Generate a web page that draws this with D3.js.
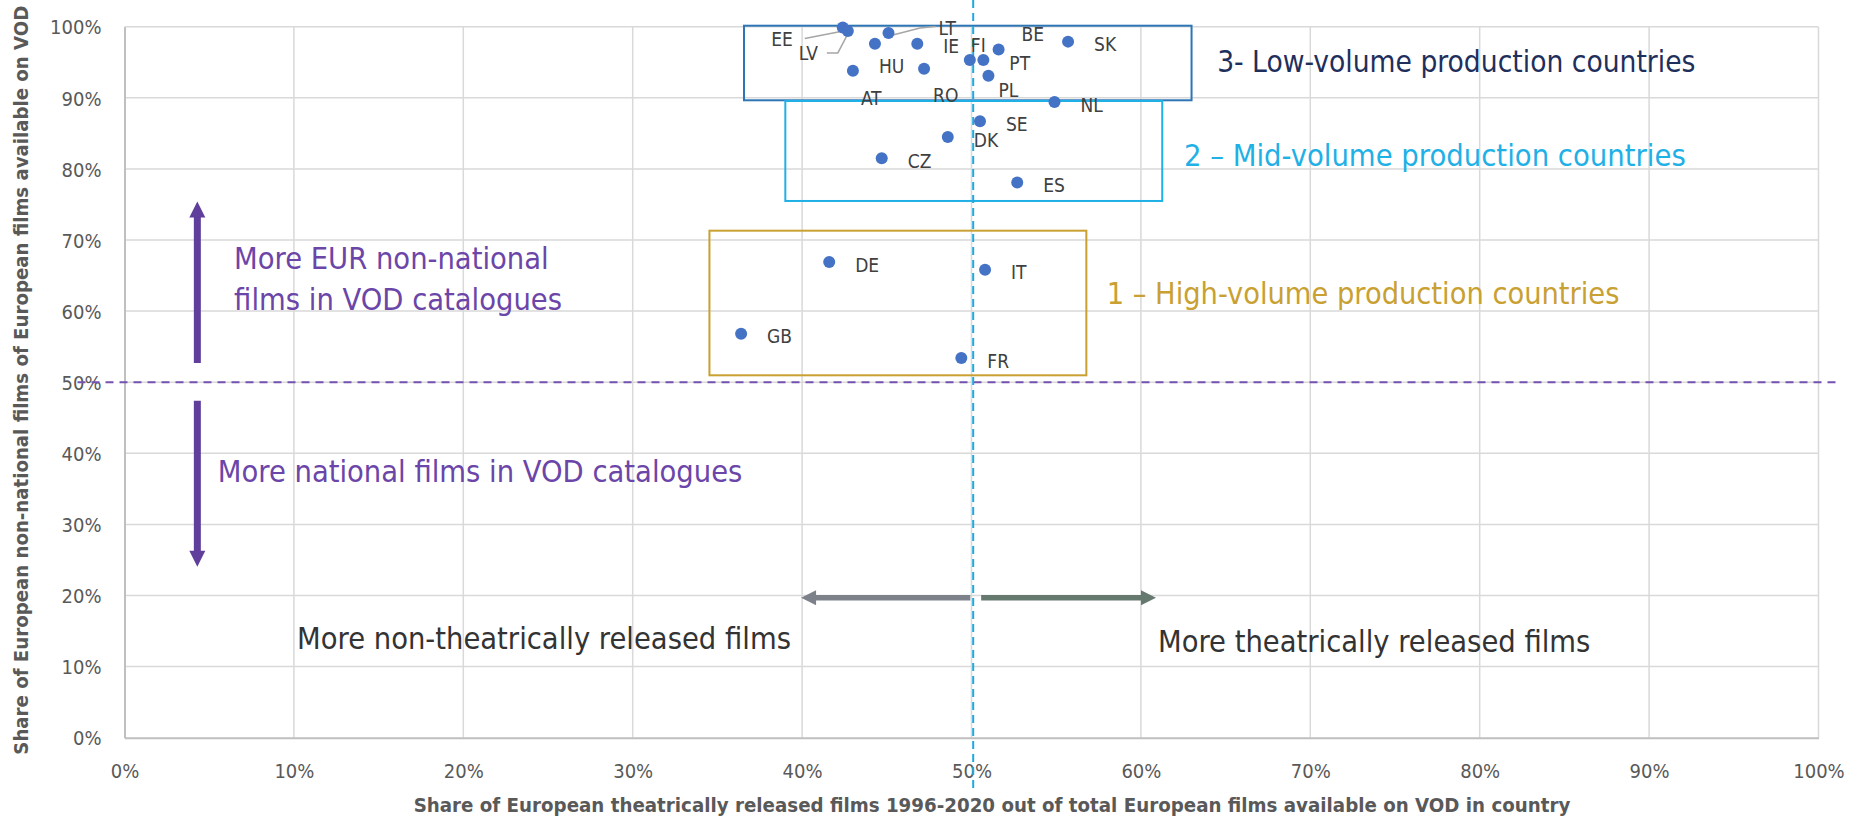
<!DOCTYPE html>
<html>
<head>
<meta charset="utf-8">
<script src="https://cdn.jsdelivr.net/npm/d3@7"></script>
<style>
  body { margin: 0; background: #fff; }
  svg text { font-family: "Liberation Sans Narrow", "DejaVu Sans Condensed", "Roboto Condensed", sans-serif; }
</style>
</head>
<body>
<script>
/*
    DATA
*/
var countries        = ["EE","LV","LT","HU","IE","AT","RO","FI","PT","BE","PL","SK","NL","SE","DK","CZ","ES","DE","IT","GB","FR"];
var theatricalShare  = [0.424,0.427,0.451,0.443,0.468,0.430,0.472,0.499,0.507,0.516,0.510,0.557,0.549,0.505,0.486,0.447,0.527,0.416,0.508,0.364,0.494];
var nonNationalShare = [0.999,0.994,0.991,0.976,0.976,0.938,0.941,0.953,0.953,0.968,0.931,0.979,0.894,0.867,0.845,0.815,0.781,0.669,0.658,0.568,0.534];

var xTicks = [0,0.1,0.2,0.3,0.4,0.5,0.6,0.7,0.8,0.9,1];
var yTicks = [0,0.1,0.2,0.3,0.4,0.5,0.6,0.7,0.8,0.9,1];

// production-volume groups: [x0, x1, y0, y1] in data units
var groupNames  = ["3- Low-volume production countries", "2 \u2013 Mid-volume production countries", "1 \u2013 High-volume production countries"];
var groupBoxes  = [[0.3657,0.6299,0.8965,1.0014],[0.3901,0.6126,0.7549,0.8955],[0.3453,0.5678,0.5097,0.7131]];
var groupLabelAt = [[0.645,0.951],[0.6254,0.8195],[0.5798,0.625]];
var groupFont   = [29.6, 30.6, 30.4];
var groupColors = ["#2E75B6","#1FB0E6","#C9A032"];
var groupText   = ["#1F2F5C","#1FB0E6","#C9A032"];

/*
    LAYOUT
*/
var width = 1858, height = 819;
var margin = {top: 26.7, left: 124.5, right: 39.5, bottom: 81.3};
var w = width - margin.left - margin.right;
var h = height - margin.top - margin.bottom;

var x = d3.scaleLinear().domain([0, 1]).range([0, w]);
var y = d3.scaleLinear().domain([0, 1]).range([h, 0]);
var pct = d3.format(".0%");

var svg = d3.select("body").append("svg")
    .attr("width", width)
    .attr("height", height);

var chart = svg.append("g")
    .attr("transform", "translate(" + margin.left + "," + margin.top + ")");

// gridlines
chart.append("g").selectAll("line.v")
  .data(xTicks.slice(1)).enter().append("line")
    .attr("x1", function(d) { return x(d); }).attr("x2", function(d) { return x(d); })
    .attr("y1", 0).attr("y2", h)
    .style("stroke", "#D9D9D9").style("stroke-width", 1.5);

chart.append("g").selectAll("line.h")
  .data(yTicks.slice(1)).enter().append("line")
    .attr("x1", 0).attr("x2", w)
    .attr("y1", function(d) { return y(d); }).attr("y2", function(d) { return y(d); })
    .style("stroke", "#D9D9D9").style("stroke-width", 1.5);

// axes
var xAxis = chart.append("g")
    .attr("transform", "translate(0," + h + ")")
    .call(d3.axisBottom(x).tickValues(xTicks).tickFormat(pct).tickSize(0).tickPadding(26));
var yAxis = chart.append("g")
    .call(d3.axisLeft(y).tickValues(yTicks).tickFormat(pct).tickSize(0).tickPadding(23));

[xAxis, yAxis].forEach(function(a) {
  a.select(".domain").style("stroke", "#BFBFBF").style("stroke-width", 2);
  a.selectAll("text").style("font-size", "20px").style("fill", "#595959");
});
yAxis.selectAll("text").attr("dy", "0.36em");

// axis titles
svg.append("text")
    .attr("x", 992).attr("y", 812)
    .attr("text-anchor", "middle")
    .style("font-size", "20.3px").style("font-weight", "bold").style("fill", "#595959")
    .text("Share of European theatrically released films 1996-2020 out of total European films available on VOD in country");

svg.append("text")
    .attr("transform", "translate(28," + (margin.top + h / 2 - 2) + ") rotate(-90)")
    .attr("text-anchor", "middle")
    .style("font-size", "20.2px").style("font-weight", "bold").style("fill", "#595959")
    .text("Share of European non-national films of European films available on VOD");

// group boxes
chart.append("g").selectAll("rect")
  .data(groupBoxes).enter().append("rect")
    .attr("x", function(d) { return x(d[0]); })
    .attr("y", function(d) { return y(d[3]); })
    .attr("width", function(d) { return x(d[1]) - x(d[0]); })
    .attr("height", function(d) { return y(d[2]) - y(d[3]); })
    .style("fill", "none")
    .style("stroke", function(d, i) { return groupColors[i]; })
    .style("stroke-width", 2);

chart.append("g").selectAll("text")
  .data(groupNames).enter().append("text")
    .attr("x", function(d, i) { return x(groupLabelAt[i][0]); })
    .attr("y", function(d, i) { return y(groupLabelAt[i][1]); })
    .attr("dy", "0.35em")
    .style("font-size", function(d, i) { return groupFont[i] + "px"; })
    .style("fill", function(d, i) { return groupText[i]; })
    .text(function(d) { return d; });

// reference lines
chart.append("line")
    .attr("x1", -47).attr("x2", w + 20)
    .attr("y1", y(0.5)).attr("y2", y(0.5))
    .style("stroke", "#7452B0").style("stroke-width", 2).style("stroke-dasharray", "8,6");

chart.append("line")
    .attr("x1", x(0.501)).attr("x2", x(0.501))
    .attr("y1", -margin.top).attr("y2", h + 55)
    .style("stroke", "#1FA9E1").style("stroke-width", 2).style("stroke-dasharray", "8,5");

// arrows
function arrow(x1, y1, x2, y2, color, sw, headL, headW) {
  var dx = x2 - x1, dy = y2 - y1, len = Math.sqrt(dx * dx + dy * dy);
  var ux = dx / len, uy = dy / len;
  var bx = x2 - ux * headL, by = y2 - uy * headL;
  chart.append("line")
      .attr("x1", x1).attr("y1", y1).attr("x2", bx + ux).attr("y2", by + uy)
      .style("stroke", color).style("stroke-width", sw);
  chart.append("path")
      .attr("d", "M" + x2 + "," + y2 +
                 "L" + (bx - uy * headW / 2) + "," + (by + ux * headW / 2) +
                 "L" + (bx + uy * headW / 2) + "," + (by - ux * headW / 2) + "Z")
      .style("fill", color);
}
arrow(x(0.043), y(0.527), x(0.043), y(0.754), "#5F3F9B", 7, 16, 16);
arrow(x(0.043), y(0.474), x(0.043), y(0.2405), "#5F3F9B", 7, 16, 16);
arrow(x(0.4993), y(0.197), x(0.3994), y(0.197), "#7D828A", 5.5, 15, 15);
arrow(x(0.5057), y(0.197), x(0.6089), y(0.197), "#66796F", 5.5, 15, 15);

// annotation texts
var notes = [
  {t: "More EUR non-national", x: 0.0647, y: 0.6747, c: "#6B45A8"},
  {t: "films in VOD catalogues", x: 0.0647, y: 0.617, c: "#6B45A8"},
  {t: "More national films in VOD catalogues", x: 0.0551, y: 0.374, c: "#6B45A8"},
  {t: "More non-theatrically released films", x: 0.1019, y: 0.1402, c: "#333333"},
  {t: "More theatrically released films", x: 0.6101, y: 0.136, c: "#333333"}
];
chart.append("g").selectAll("text")
  .data(notes).enter().append("text")
    .attr("x", function(d) { return x(d.x); })
    .attr("y", function(d) { return y(d.y); })
    .attr("dy", "0.35em")
    .style("font-size", "30.5px")
    .style("fill", function(d) { return d.c; })
    .text(function(d) { return d.t; });

/*
    POINTS + LABELS
*/
var points = countries.map(function(c, i) {
  return {c: c, x: theatricalShare[i], y: nonNationalShare[i]};
});

// label placement tweaks (pixels from dot), default is right of dot
var labelOffsets = {
  EE: [-50, 12, "end"], LV: [-30, 22, "end"], LT: [50, -5], HU: [4, 23],
  AT: [8, 28], RO: [9, 27], FI: [1, -15], BE: [23, -15], PL: [10, 15]
};
var leaders = {
  EE: [[-38, 11], [-2, 4]],
  LV: [[-21, 22], [-10, 22], [0, 3]],
  LT: [[1.5, 2.7], [31.5, -5], [47, -6.6]]
};

chart.append("g").selectAll("path")
  .data(points.filter(function(d) { return leaders[d.c]; })).enter().append("path")
    .attr("d", function(d) {
      return "M" + leaders[d.c].map(function(p) { return (x(d.x) + p[0]) + "," + (y(d.y) + p[1]); }).join("L");
    })
    .style("fill", "none").style("stroke", "#A6A6A6").style("stroke-width", 1.5);

chart.append("g").selectAll("circle")
  .data(points).enter().append("circle")
    .attr("cx", function(d) { return x(d.x); })
    .attr("cy", function(d) { return y(d.y); })
    .attr("r", 6)
    .style("fill", "#4472C4");

chart.append("g").selectAll("text")
  .data(points).enter().append("text")
    .attr("x", function(d) { var o = labelOffsets[d.c]; return x(d.x) + (o ? o[0] : 26); })
    .attr("y", function(d) { var o = labelOffsets[d.c]; return y(d.y) + (o ? o[1] : 3); })
    .attr("dy", "0.35em")
    .attr("text-anchor", function(d) { var o = labelOffsets[d.c]; return o && o[2] ? o[2] : "start"; })
    .style("font-size", "19px")
    .style("fill", "#404040")
    .text(function(d) { return d.c; });
</script>
</body>
</html>
